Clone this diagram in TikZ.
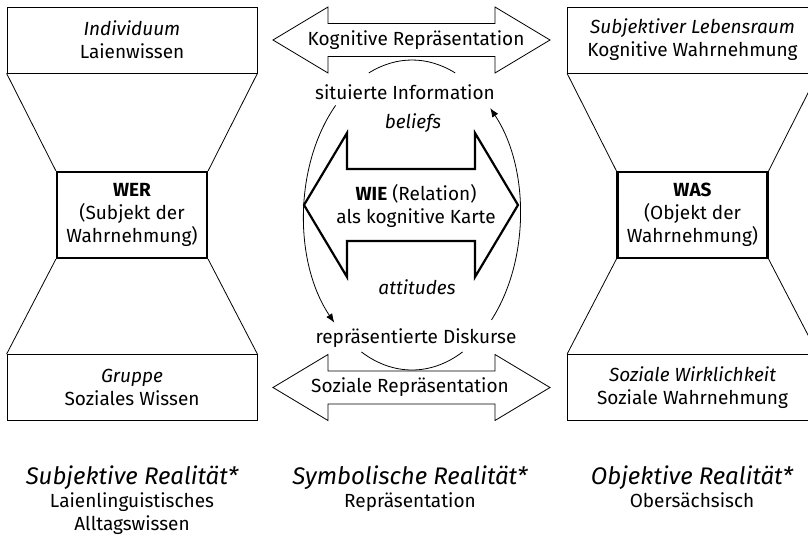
\documentclass[tikz,border=0pt]{standalone}
\usepackage{fontspec}
\setmainfont{Fira Sans}
\usetikzlibrary{arrows.meta}
\tikzset{
  box/.style = {draw, thin, minimum width=125pt, minimum height=33pt, align=center},
  core/.style = {draw, line width=1.1pt, minimum width=75pt, minimum height=43pt, align=center},
  realm/.style = {align=center, anchor=north, inner sep=0pt},
  flow/.style = {thin, -{Latex[length=4.5pt,width=3.5pt]}}
}

\begin{document}
\begin{tikzpicture}[x=0.5pt, y=-0.5pt, font=\fontsize{9.5}{11.5}\selectfont]
  \useasboundingbox (0,0) rectangle (808,535);
  \pgfmathsetmacro{\ra}{108}
  \pgfmathsetmacro{\rb}{155}
  %
  \node[box] (indiv) at (132,40) {\textit{Individuum}\\Laienwissen};
  \node[core] (wer) at (132,215) {\textbf{WER}\\(Subjekt der\\Wahrnehmung)};
  \node[box] (gruppe) at (132,387.5) {\textit{Gruppe}\\Soziales Wissen};
  \node[box] (lebensraum) at (692.5,40) {\textit{Subjektiver Lebensraum}\\Kognitive Wahrnehmung};
  \node[core] (was) at (692.5,215) {\textbf{WAS}\\(Objekt der\\Wahrnehmung)};
  \node[box] (wirklichkeit) at (692.5,387.5) {\textit{Soziale Wirklichkeit}\\Soziale Wahrnehmung};
  \foreach \top/\mid/\bot in {indiv/wer/gruppe, lebensraum/was/wirklichkeit} {
    \draw (\top.south west) -- (\mid.north west);
    \draw (\top.south east) -- (\mid.north east);
    \draw (\mid.south west) -- (\bot.north west);
    \draw (\mid.south east) -- (\bot.north east);
  }
  %
  \foreach \y/\txt/\nm/\tx in {40/Kognitive Repräsentation/kogrep/416, 387.5/Soziale Repräsentation/sozrep/410} {
    \draw (273,\y) -- (328,\y-33) -- (328,\y-16.5) -- (495,\y-16.5) -- (495,\y-33)
      -- (550,\y) -- (495,\y+33) -- (495,\y+16.5) -- (328,\y+16.5) -- (328,\y+33) -- cycle;
    \node (\nm) at (\tx,\y) {\txt};
  }
  \draw[line width=1.1pt] (304,205) -- (347,133) -- (347,169) -- (475,169) -- (475,133)
    -- (518,205) -- (475,277) -- (475,241) -- (347,241) -- (347,277) -- cycle;
  \node[align=center] (wie) at (416,206) {\textbf{WIE} (Relation)\\als kognitive Karte};
  %
  \node (sitinfo) at (405,92) {situierte Information};
  \node (beliefs) at (413,123) {\textit{beliefs}};
  \node (attitudes) at (417,287) {\textit{attitudes}};
  \node (repdisk) at (416,338) {repräsentierte Diskurse};
  %
  \coordinate (ell) at (412,215);
  \draw[thin] ([shift={(-113.6:{\ra} and {\rb})}]ell) arc[start angle=-113.6, end angle=-66.4, x radius=\ra, y radius=\rb];
  \draw[thin] ([shift={(117.9:{\ra} and {\rb})}]ell) arc[start angle=117.9, end angle=62.1, x radius=\ra, y radius=\rb];
  \draw[flow] ([shift={(225:{\ra} and {\rb})}]ell) arc[start angle=225, end angle=136, x radius=\ra, y radius=\rb];
  \draw[flow] ([shift={(42.6:{\ra} and {\rb})}]ell) arc[start angle=42.6, end angle=-43.6, x radius=\ra, y radius=\rb];
  %
  \node[realm] (subj) at (132,465) {{\fontsize{12}{13}\selectfont\itshape Subjektive Realität*}\\Laienlinguistisches\\Alltagswissen};
  \node[realm] (symb) at (410,465) {{\fontsize{12}{13}\selectfont\itshape Symbolische Realität*}\\Repräsentation};
  \node[realm] (obj) at (692,465) {{\fontsize{12}{13}\selectfont\itshape Objektive Realität*}\\Obersächsisch};
\end{tikzpicture}
\end{document}
